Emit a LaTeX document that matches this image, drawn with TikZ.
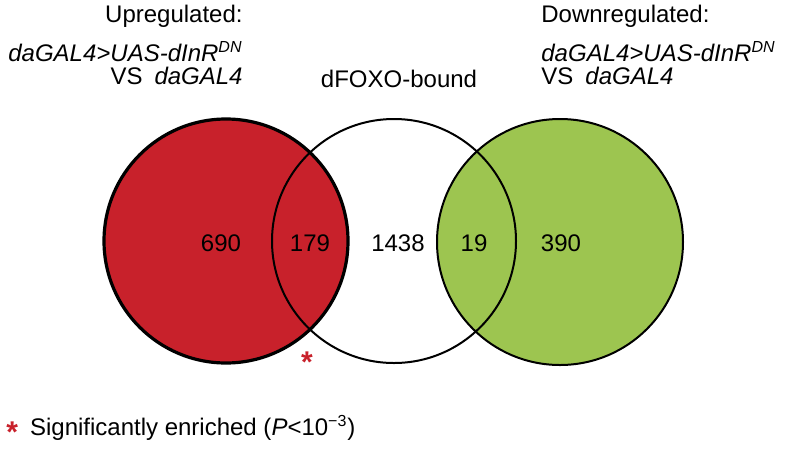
\documentclass[tikz,border=0pt]{standalone}
\usepackage{fontspec}
\setmainfont{Liberation Sans}

\definecolor{rossoup}{RGB}{200,33,43}
\definecolor{verdedown}{RGB}{157,197,80}

\begin{document}
\begin{tikzpicture}[
  x=0.5pt, y=-0.5pt,
  font=\fontsize{12}{14}\selectfont,
  insieme/.style={draw=black, line width=1pt},
  bordo/.style={draw=black, line width=1.6pt},
  conta/.style={font=\fontsize{12}{14}\selectfont, inner sep=0pt},
  titolosx/.style={inner sep=0pt, anchor=base east},
  titolodx/.style={inner sep=0pt, anchor=base west}
]
\useasboundingbox (0,0) rectangle (788,456);

%--------------------------------------------------------------
% Insiemi: riempimenti e contorni
%--------------------------------------------------------------
\fill[rossoup] (226,241) circle (122);
\fill[verdedown] (560,242) circle (123);
\draw[insieme] (394,241) circle (122);
\draw[insieme] (560,242) circle (123);
\draw[bordo] (226,241) circle (122);

%--------------------------------------------------------------
% Numero di geni in ciascuna regione
%--------------------------------------------------------------
\foreach \cx/\val/\nome in {221/690/solosu, 310/179/sufoxo,
                            398/1438/solofoxo, 474/19/giufoxo,
                            561/390/sologiu}
  \node[conta] (\nome) at (\cx,243) {\val};

\node[anchor=base, inner sep=0pt, text=rossoup,
      font=\fontsize{15}{16}\bfseries] (stella) at (307,372) {*};

%--------------------------------------------------------------
% Titoli degli insiemi
%--------------------------------------------------------------
\node[titolosx] (tsu) at (243,22) {Upregulated:};
\node[titolosx] (gsu) at (243,61) {\textit{daGAL4>UAS-dInR\textsuperscript{DN}}};
\node[titolosx] (vsu) at (243,84) {VS\enspace\textit{daGAL4}};

\node[anchor=base, inner sep=0pt] (tfoxo) at (399,87) {dFOXO-bound};

\node[titolodx] (tgiu) at (541,22) {Downregulated:};
\node[titolodx] (ggiu) at (541,61) {\textit{daGAL4>UAS-dInR\textsuperscript{DN}}};
\node[titolodx] (vgiu) at (541,84) {VS\enspace\textit{daGAL4}};

%--------------------------------------------------------------
% Legenda
%--------------------------------------------------------------
\node[anchor=base west, inner sep=0pt] (legenda) at (6,435)
  {\textcolor{rossoup}{\raisebox{-3.5pt}{\fontsize{15}{16}\bfseries *}}\enspace
   Significantly enriched (\textit{P}<10\textsuperscript{−3})};

\end{tikzpicture}
\end{document}
